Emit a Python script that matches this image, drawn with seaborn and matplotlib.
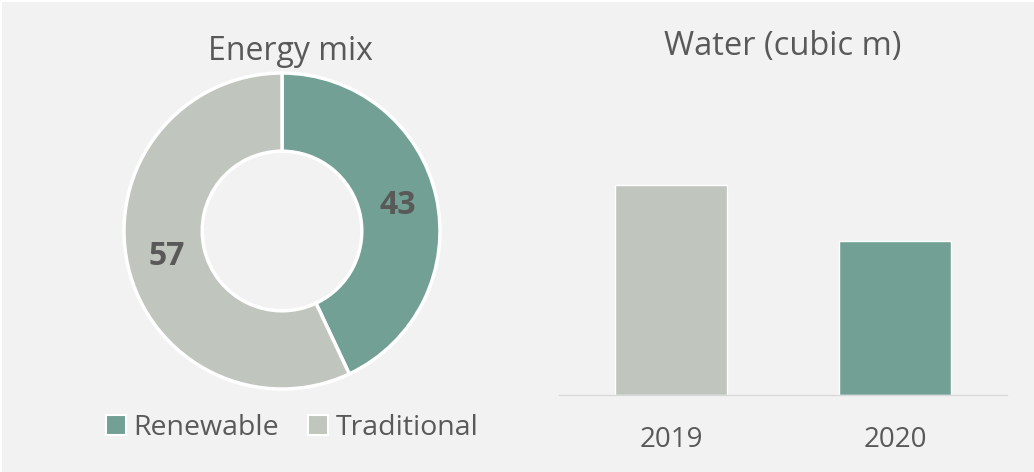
import matplotlib
matplotlib.use("Agg")
import matplotlib.pyplot as plt
import seaborn as sns
import pandas as pd
import numpy as np
from matplotlib.patches import Rectangle

# ---- data ----
energy_labels = ["Renewable", "Traditional"]
energy_values = [43, 57]
years = ["2019", "2020"]
water_values = [4100, 3000]

TEAL = "#72A094"
GRAY = "#C0C5BE"
BG = "#F2F2F2"
TXT = "#595959"

sns.set_theme(style="white")
plt.rcParams["font.family"] = ["Open Sans", "DejaVu Sans"]

W, H = 1034, 472
fig = plt.figure(figsize=(W / 100, H / 100), dpi=100)
fig.patch.set_facecolor("white")
fig.patches.append(Rectangle((2 / W, 0), 1 - 2 / W, 1 - 2 / H, transform=fig.transFigure,
                             facecolor=BG, edgecolor="none", zorder=-10))

def px_axes(x0, y0, x1, y1):
    # pixel box (top-left origin) -> figure axes
    return fig.add_axes([x0 / W, 1 - y1 / H, (x1 - x0) / W, (y1 - y0) / H])

# ---- donut ----
cx, cy, R = 282, 231, 158
ax1 = px_axes(cx - 160, cy - 160, cx + 160, cy + 160)
ax1.set_facecolor("none")
wedges, _ = ax1.pie(energy_values, colors=[TEAL, GRAY], startangle=90, counterclock=False,
                    radius=1.0, wedgeprops=dict(width=0.495, edgecolor="white", linewidth=2.5))
ax1.set_xlim(-160 / R, 160 / R)
ax1.set_ylim(-160 / R, 160 / R)
ax1.set_aspect("equal")
start = 90.0
total = sum(energy_values)
for v in energy_values:
    mid = start - v / total * 360 / 2
    r = 0.75
    ax1.text(r * np.cos(np.radians(mid)), r * np.sin(np.radians(mid)), f"{v}",
             ha="center", va="center", fontsize=23, fontweight="bold", color=TXT)
    start -= v / total * 360
ax1.axis("off")

fig.text(290 / W, 1 - 51 / H, "Energy mix", ha="center", va="center", fontsize=23, color=TXT)

# legend
handles = [Rectangle((0, 0), 1, 1, facecolor=c, edgecolor="white", linewidth=1.5) for c in [TEAL, GRAY]]
fig.legend(handles, energy_labels, loc="center", bbox_to_anchor=(292 / W, 1 - 428 / H),
           ncol=2, frameon=False, fontsize=20.5, labelcolor=TXT, handlelength=0.7, handleheight=0.7,
           handletextpad=0.25, columnspacing=1.05)

# ---- bars ----
ax2 = px_axes(559, 100, 1007, 395)
ax2.set_facecolor("none")
df = pd.DataFrame({"year": years, "value": water_values})
sns.barplot(data=df, x="year", y="value", hue="year", palette=[GRAY, TEAL], width=0.5,
            legend=False, ax=ax2, saturation=1)
ax2.set_xlim(-0.5, 1.5)
ax2.set_ylim(0, water_values[0] * 295 / 210)
ax2.set_yticks([])
ax2.set_xlabel("")
ax2.set_ylabel("")
for s in ["top", "right", "left"]:
    ax2.spines[s].set_visible(False)
ax2.spines["bottom"].set_color("#D9D9D9")
ax2.spines["bottom"].set_linewidth(1)
ax2.tick_params(axis="x", length=0, pad=22, labelsize=20, labelcolor=TXT)

fig.text(783 / W, 1 - 47 / H, "Water (cubic m)", ha="center", va="center", fontsize=23.5, color=TXT)

fig.savefig("out.png", dpi=100, facecolor=fig.get_facecolor())
